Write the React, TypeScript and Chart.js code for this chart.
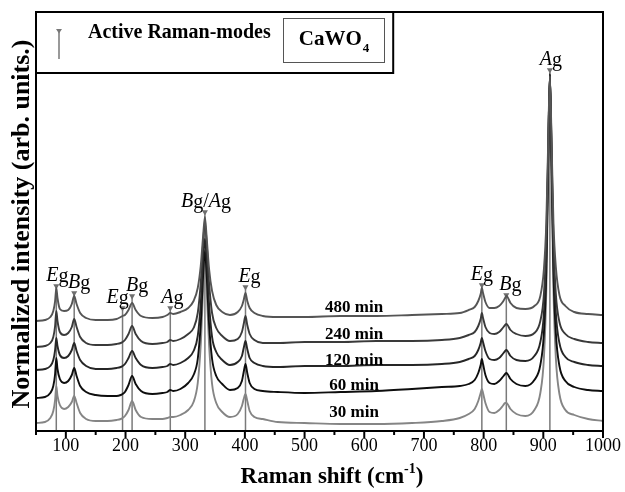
import React, { useEffect, useRef } from 'react';
import { Chart, registerables } from 'chart.js';

Chart.register(...registerables);

const SERIF = '"Liberation Serif", "Times New Roman", serif';

// Raman shift sample positions (cm-1)
const ramanShift = [
  50, 65, 74, 79, 82, 84, 86, 90, 97, 104,
  110, 114, 118, 124, 134, 150, 170, 185, 192, 195,
  199, 205, 211, 217, 226, 245, 262, 270, 275, 280,
  292, 305, 314, 321, 326, 330, 333, 336, 340, 345,
  352, 362, 375, 388, 395, 398, 401, 404, 408, 416,
  430, 455, 500, 560, 620, 680, 730, 760, 775, 785,
  791, 795, 797, 799, 803, 810, 818, 826, 832, 836,
  838, 840, 845, 855, 870, 885, 895, 901, 905, 908,
  911, 914, 917, 921, 927, 937, 952, 975, 1000,
];

// Normalized intensities (arb. units, vertically offset traces)
const trace480 = [
  110, 111, 114, 120, 130, 143, 133, 122, 120, 121,
  127, 135, 127, 118, 113, 111, 111, 112, 114, 115,
  116, 121, 128, 121, 115, 113, 114, 116, 118, 117,
  119, 123, 130, 143, 165, 195, 214, 193, 162, 140,
  126, 119, 116, 119, 125, 131, 138, 130, 123, 118,
  115, 114, 114, 115, 115, 116, 117, 118, 121, 124,
  130, 137, 143, 138, 129, 123, 123, 125, 129, 133,
  135, 134, 128, 123, 122, 125, 135, 162, 208, 285,
  355, 285, 208, 164, 136, 125, 119, 117, 116,
];
const trace240 = [
  84, 85, 88, 94, 105, 120, 110, 99, 96, 98,
  104, 112, 104, 94, 88, 86, 86, 87, 88, 89,
  91, 97, 105, 97, 90, 87, 88, 89, 91, 90,
  92, 97, 103, 118, 148, 188, 208, 188, 148, 118,
  103, 95, 90, 92, 99, 107, 115, 106, 97, 91,
  88, 88, 89, 89, 90, 90, 91, 93, 96, 99,
  105, 112, 118, 113, 104, 98, 97, 99, 103, 106,
  107, 106, 101, 97, 95, 98, 110, 137, 190, 276,
  354, 276, 190, 137, 109, 97, 92, 89, 88,
];
const trace120 = [
  61, 62, 65, 71, 81, 93, 85, 76, 73, 75,
  81, 88, 80, 71, 65, 62, 62, 63, 64, 65,
  67, 73, 80, 73, 66, 63, 64, 65, 67, 66,
  68, 73, 80, 95, 127, 171, 192, 171, 127, 94,
  79, 71, 66, 69, 75, 83, 90, 82, 73, 68,
  65, 64, 65, 65, 66, 66, 67, 69, 72, 75,
  81, 88, 93, 89, 80, 72, 71, 73, 77, 80,
  81, 80, 75, 71, 70, 75, 89, 118, 176, 270,
  356, 270, 176, 118, 88, 74, 69, 66, 65,
];
const trace60 = [
  33, 34, 38, 45, 57, 73, 62, 52, 48, 50,
  56, 63, 55, 45, 39, 36, 35, 35, 36, 37,
  39, 46, 55, 47, 40, 37, 38, 39, 41, 40,
  42, 48, 56, 72, 107, 156, 180, 156, 107, 72,
  55, 47, 41, 43, 50, 59, 67, 58, 48, 42,
  40, 39, 38, 39, 40, 42, 44, 45, 47, 51,
  58, 66, 72, 67, 56, 48, 47, 50, 54, 57,
  58, 57, 52, 47, 45, 51, 66, 98, 160, 263,
  357, 263, 160, 98, 65, 50, 44, 41, 40,
];
const trace30 = [
  8, 9, 13, 20, 31, 45, 35, 26, 22, 24,
  29, 35, 28, 18, 12, 10, 10, 11, 12, 13,
  15, 21, 30, 21, 14, 12, 12, 13, 14, 14,
  16, 21, 29, 48, 86, 141, 168, 141, 86, 47,
  28, 19, 14, 17, 25, 32, 37, 30, 20, 14,
  12, 9, 8, 7, 7, 8, 10, 13, 17, 22,
  30, 38, 42, 38, 28, 19, 18, 21, 25, 28,
  28, 27, 22, 17, 15, 21, 38, 73, 141, 254,
  358, 254, 141, 73, 37, 21, 16, 12, 10,
];

const seriesNames = ['480 min', '240 min', '120 min', '60 min', '30 min'];
const seriesValues = [trace480, trace240, trace120, trace60, trace30];

// Active Raman modes
const modePositions = [84, 114, 195, 211, 275, 333, 401, 797, 838, 911];
const modeTops = [145, 138, 123, 135, 123, 219, 144, 146, 136, 361];
const modeLabels = ['Eg', 'Bg', 'Eg', 'Bg', 'Ag', 'Bg/Ag', 'Eg', 'Eg', 'Bg', 'Ag'];

// styling / layout (not data)
const seriesColors = ['#555555', '#3a3a3a', '#262626', '#0e0e0e', '#858585'];
const labelShift = [1, 5, -5, 5, 2, 1, 4, 0, 4, 1];
const nameLevels = [123, 96, 70, 45, 18];
const nameX = 583;

function drawModeLabel(ctx: CanvasRenderingContext2D, text: string, cx: number, by: number) {
  const size = 20;
  const parts = text.split('').map((ch) => ({ ch, italic: /[A-Z]/.test(ch) }));
  const widths = parts.map((p) => {
    ctx.font = `${p.italic ? 'italic ' : ''}${size}px ${SERIF}`;
    return ctx.measureText(p.ch).width;
  });
  const total = widths.reduce((s, w) => s + w, 0);
  let x = cx - total / 2;
  ctx.textAlign = 'left';
  ctx.textBaseline = 'alphabetic';
  parts.forEach((p, i) => {
    ctx.font = `${p.italic ? 'italic ' : ''}${size}px ${SERIF}`;
    ctx.fillText(p.ch, x, by + (p.ch === 'g' ? 1 : 0));
    x += widths[i];
  });
}

const overlayPlugin = {
  id: 'overlay',
  afterDraw(chart: any) {
    const { ctx, chartArea: a } = chart;
    const xs = chart.scales.x;
    const ys = chart.scales.y;
    ctx.save();
    ctx.fillStyle = '#000';

    // mode labels
    modePositions.forEach((p, i) => {
      const cx = xs.getPixelForValue(p) + labelShift[i];
      const by = ys.getPixelForValue(modeTops[i]) - 5;
      drawModeLabel(ctx, modeLabels[i], cx, by);
    });

    // series names
    ctx.font = `bold 17px ${SERIF}`;
    ctx.textAlign = 'center';
    ctx.textBaseline = 'middle';
    seriesNames.forEach((n, i) => {
      ctx.fillText(n, xs.getPixelForValue(nameX), ys.getPixelForValue(nameLevels[i]));
    });

    // frame
    ctx.strokeStyle = '#000';
    ctx.lineWidth = 2;
    ctx.strokeRect(a.left, a.top, a.right - a.left, a.bottom - a.top);

    // ticks
    xs.ticks.forEach((t: any) => {
      const px = xs.getPixelForValue(t.value);
      const len = t.value % 100 === 0 ? 7 : 4;
      ctx.beginPath();
      ctx.moveTo(px, a.bottom);
      ctx.lineTo(px, a.bottom + len);
      ctx.stroke();
    });

    // legend box
    const boxRight = a.left + (a.right - a.left) * 0.63;
    const boxBottom = 73;
    ctx.strokeRect(a.left, a.top, boxRight - a.left, boxBottom - a.top);

    // legend icon
    ctx.strokeStyle = '#777';
    ctx.fillStyle = '#777';
    ctx.lineWidth = 1.5;
    ctx.beginPath();
    ctx.moveTo(59, 32);
    ctx.lineTo(59, 59);
    ctx.stroke();
    ctx.beginPath();
    ctx.moveTo(56, 29);
    ctx.lineTo(62, 29);
    ctx.lineTo(59, 33.5);
    ctx.closePath();
    ctx.fill();

    ctx.fillStyle = '#000';
    ctx.font = `bold 20px ${SERIF}`;
    ctx.textAlign = 'left';
    ctx.textBaseline = 'alphabetic';
    ctx.fillText('Active Raman-modes', 88, 38);

    // CaWO4 box
    ctx.strokeStyle = '#555';
    ctx.lineWidth = 1;
    ctx.strokeRect(283.5, 18.5, 101, 44);
    ctx.font = `bold 21px ${SERIF}`;
    const w1 = ctx.measureText('CaWO').width;
    ctx.font = `bold 13px ${SERIF}`;
    const w2 = ctx.measureText('4').width;
    const sx = 334 - (w1 + w2 + 1) / 2;
    ctx.font = `bold 21px ${SERIF}`;
    ctx.fillText('CaWO', sx, 45);
    ctx.font = `bold 13px ${SERIF}`;
    ctx.fillText('4', sx + w1 + 1, 52);

    // x title
    ctx.font = `bold 23px ${SERIF}`;
    const t1 = 'Raman shift (cm';
    const tw1 = ctx.measureText(t1).width;
    ctx.font = `bold 14px ${SERIF}`;
    const tw2 = ctx.measureText('-1').width;
    ctx.font = `bold 23px ${SERIF}`;
    const tw3 = ctx.measureText(')').width;
    let tx = 332 - (tw1 + tw2 + tw3) / 2;
    ctx.fillText(t1, tx, 483);
    tx += tw1;
    ctx.font = `bold 14px ${SERIF}`;
    ctx.fillText('-1', tx, 473);
    tx += tw2;
    ctx.font = `bold 23px ${SERIF}`;
    ctx.fillText(')', tx, 483);

    // y title
    ctx.save();
    ctx.translate(29, 224);
    ctx.rotate(-Math.PI / 2);
    ctx.font = `bold 26px ${SERIF}`;
    ctx.textAlign = 'center';
    ctx.fillText('Normalized intensity (arb. units.)', 0, 0);
    ctx.restore();

    ctx.restore();
  },
};

export default function App() {
  const ref = useRef<HTMLCanvasElement | null>(null);

  useEffect(() => {
    if (!ref.current) return;
    const spectra = seriesValues.map((vals, i) => ({
      type: 'line' as const,
      label: seriesNames[i],
      data: ramanShift.map((x, j) => ({ x, y: vals[j] })),
      borderColor: seriesColors[i],
      borderWidth: 1.9,
      pointRadius: 0,
      cubicInterpolationMode: 'monotone' as const,
      fill: false,
    }));
    const modes = modePositions.map((p, i) => ({
      type: 'line' as const,
      label: modeLabels[i],
      data: [
        { x: p, y: 0 },
        { x: p, y: modeTops[i] },
      ],
      borderColor: '#7a7a7a',
      borderWidth: 1.5,
      pointRadius: [0, 3.5],
      pointStyle: 'triangle',
      rotation: 180,
      pointBackgroundColor: '#6e6e6e',
      pointBorderWidth: 0,
      fill: false,
    }));

    const chart = new Chart(ref.current, {
      type: 'line',
      data: { datasets: [...spectra, ...modes] as any },
      options: {
        responsive: false,
        animation: false,
        devicePixelRatio: 1,
        layout: { padding: { left: 36, right: 22, top: 12, bottom: 0 } },
        plugins: { legend: { display: false }, tooltip: { enabled: false } },
        scales: {
          x: {
            type: 'linear',
            min: 50,
            max: 1000,
            grid: { display: false, drawTicks: false },
            border: { display: false },
            ticks: {
              stepSize: 50,
              autoSkip: false,
              maxRotation: 0,
              padding: 4,
              color: '#000',
              font: { family: SERIF, size: 18 },
              callback: (v: any) => (Number(v) % 100 === 0 ? String(v) : ''),
            },
            afterFit: (s: any) => {
              s.height = 61;
            },
          },
          y: { display: false, min: 0, max: 419 },
        },
      },
      plugins: [overlayPlugin],
    });
    return () => chart.destroy();
  }, []);

  return (
    <div style={{ position: 'fixed', left: 0, top: 0, width: 625, height: 492, background: '#fff' }}>
      <canvas ref={ref} width={625} height={492} style={{ width: 625, height: 492 }} />
    </div>
  );
}
